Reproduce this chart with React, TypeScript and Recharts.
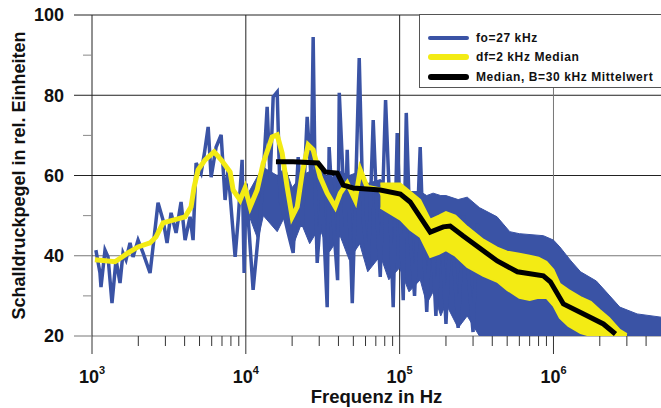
import { ComposedChart, Line, Area, XAxis, YAxis, ReferenceLine } from "recharts";

// fo=27 kHz, einzelne Linie (Spitzen bis ca. 400 kHz)
const blueFreq = [
  1060, 1127, 1144, 1215, 1271, 1349, 1433, 1521, 1591, 1664, 1767, 1849, 1992, 2147, 2384, 2494,
  2687, 2896, 3076, 3266, 3520, 3793, 4028, 4340, 4540, 4750, 5120, 5400, 5690, 5950, 6410, 6910,
  7330, 7670, 8100, 8520, 8910, 9460, 9750, 10050, 10200, 11150, 12020, 12770, 13760, 14390, 15060,
  15990, 16720, 18030, 18850, 20310, 21900, 23240, 25050, 26600, 27400, 28240, 29100, 31360, 33800,
  34800, 37000, 39500, 40500, 44300, 45600, 49200, 51400, 54600, 58000, 62500, 67300, 71500, 74800,
  81000, 86900, 90800, 96400, 100900, 105500, 110400, 117000, 125000, 136000, 142000, 150000,
  160000, 172000, 185000, 200000, 215000, 240000, 260000, 300000, 320000,
];
const blueLevel = [
  41.4, 35.7, 32.2, 41.4, 39.7, 28.2, 39, 33.2, 40.7, 39, 43.2, 39.7, 43.9, 40.7, 35.7, 42.2,
  53.2, 48.9, 43.2, 50.7, 45.7, 53.4, 43.9, 49.7, 43.9, 63.1, 60.6, 66, 72.1, 59.6, 67.1, 70.1,
  53.9, 61.4, 50, 39.7, 48.9, 63.9, 35.7, 58, 53.2, 31.5, 44.7, 55.6, 77.1, 58.9, 79.6,
  80.8, 53.9, 48.9, 45.7, 40.7, 64.6, 47.2, 74.6, 58.9, 94.5, 57.1, 38.2, 55.6, 27.2,
  67.1, 48.9, 33.9, 80.6, 47.2, 66.4, 28.2, 52.2, 89.3, 48.9, 37.2, 73.8, 48.9, 34.7,
  78.8, 48.9, 27.2, 70.6, 48.9, 28.9, 75.6, 45, 30, 67.1, 45, 26,
  50, 25, 50, 23, 50, 22, 50, 21, 48,
];

// fo=27 kHz, dichtes Band (Hüllkurven)
const blueBandFreq = [
  10500, 12000, 13000, 16000, 18000, 20000, 23000, 26000, 30000, 35000, 41000, 47000, 55000, 62000,
  75000, 85000, 100000, 115000, 136000, 150000, 165000, 185000, 200000, 240000, 275000, 330000,
  430000, 520000, 600000, 860000, 1000000, 1100000, 1300000, 1500000, 1900000, 2200000, 2700000,
  3500000, 5000000,
];
const blueBandLow = [
  50, 44, 50, 46, 50, 42, 48, 43, 47, 41, 45, 39, 43, 36, 40, 34, 37, 31, 34, 28, 31, 25, 28, 22,
  25, 20, 20, 20, 20, 20, 20, 20, 20, 20, 20, 20, 20, 20, 20,
];
const blueBandHigh = [
  56, 60, 62, 60, 62, 57, 60, 61, 62, 59, 61, 60, 61, 58, 59, 57, 58, 56, 56, 55, 55.6, 55, 55, 54,
  54.6, 52, 49.7, 46, 45.5, 45, 43.9, 42.2, 38.7, 36, 33.7, 31, 27.2, 25.5, 24.7,
];

// df=2 kHz Median
const yellowFreq = [
  1045, 1411, 1715, 1992, 2384, 2608, 2896, 3366, 4028, 4406, 4610, 4894, 5435, 6220, 6910, 7905,
  8265, 9180, 9890, 10670, 11850, 12970, 14830, 15990, 17220, 18570, 20000, 21580, 23240, 25430,
  27400, 30430, 33800, 38100, 41100, 45600, 51400, 55450, 61500, 74800, 86900, 100900,
];
const yellowLevel = [
  39, 38.5, 40.7, 42.2, 43.2, 44.7, 48.2, 48.9, 49.7, 52.2, 57.1, 61.4, 63.9, 65.9, 63.9, 60.9,
  56.4, 53.9, 56.9, 52.2, 56.4, 63.1, 69.6, 70.1, 65.6, 57.1, 49.7, 52.2, 60.6, 67.6,
  66.4, 59.6, 55.6, 52.2, 55.6, 58.1, 53.9, 61.4, 57.1, 56.4, 52.2, 57.1,
];
const yellowBandFreq = [
  75000, 101000, 117000, 136000, 158000, 180000, 200000, 230000, 275000, 350000, 431000, 500000,
  600000, 700000, 800000, 900000, 1000000, 1100000, 1250000, 1500000, 1750000, 2000000, 2300000,
  2700000, 3000000,
];
const yellowBandLow = [
  52, 49, 46.5, 44.7, 39.7, 40.5, 41.4, 40, 37.2, 35, 33.5, 31.5, 29.5, 29, 29.5, 29.5, 27.5, 24.5,
  22.5, 20.7, 20, 20, 20, 20, 20,
];
const yellowBandHigh = [
  58, 58, 56, 53.9, 49, 50, 50.9, 50, 47.2, 44, 42, 41, 40.5, 40, 39.5, 38.5, 36.5, 33, 31.5, 29.7,
  28.5, 26.5, 24.5, 21.5, 20.5,
];

// Median, B=30 kHz Mittelwert
const blackFreq = [
  15700, 20300, 29500, 32800, 39300, 43000, 49900, 74800, 101000, 117000, 158000, 192000, 213000,
  259000, 431000, 582000, 859000, 955000, 1160000, 1570000, 2110000, 2530000,
];
const blackLevel = [
  63.4, 63.4, 63.1, 60.9, 60.6, 57.6, 56.9, 56.4, 55.4, 53.4, 45.9, 47.2, 47.4, 44.9, 38.7, 36, 35,
  33.5, 28, 25.5, 23, 20.5,
];

const xTicks = [
  1e3, 2e3, 3e3, 4e3, 5e3, 6e3, 7e3, 8e3, 9e3, 1e4, 2e4, 3e4, 4e4, 5e4, 6e4, 7e4, 8e4, 9e4, 1e5,
  2e5, 3e5, 4e5, 5e5, 6e5, 7e5, 8e5, 9e5, 1e6, 2e6, 3e6, 4e6,
];
const xMajor = [1e3, 1e4, 1e5, 1e6];
const yTicks = [20, 30, 40, 50, 60, 70, 80, 90, 100];
const yMajor = [20, 40, 60, 80, 100];

const seriesNames = ["fo=27 kHz", "df=2 kHz Median", "Median, B=30 kHz Mittelwert"];

const BLUE = "#3a53a5";
const YELLOW = "#f3eb14";
const BLACK = "#000000";
const FONT = "'Liberation Sans', Arial, sans-serif";

const blueData = blueFreq.map((f, i) => ({ f, v: blueLevel[i] }));
const blueBand = blueBandFreq.map((f, i) => ({ f, r: [blueBandLow[i], blueBandHigh[i]] }));
const yellowData = yellowFreq.map((f, i) => ({ f, v: yellowLevel[i] }));
const yellowBand = yellowBandFreq.map((f, i) => ({ f, r: [yellowBandLow[i], yellowBandHigh[i]] }));
const blackData = blackFreq.map((f, i) => ({ f, v: blackLevel[i] }));

const XTick = (props: any) => {
  const { x, y, payload } = props;
  const major = xMajor.includes(payload.value);
  const exp = Math.round(Math.log10(payload.value));
  return (
    <g>
      <line x1={x} x2={x} y1={y} y2={y + (major ? 18 : 10)} stroke="#333" />
      {major && (
        <text x={x} y={y + 47} textAnchor="middle" fontSize={18} fontWeight="bold" fill="#111" fontFamily={FONT}>
          10
          <tspan fontSize={11} dy={-9}>
            {exp}
          </tspan>
        </text>
      )}
    </g>
  );
};

const YTick = (props: any) => {
  const { x, y, payload } = props;
  const major = yMajor.includes(payload.value);
  const color = major ? (payload.value >= 60 ? "#222" : "#777") : "#888";
  return (
    <g>
      <line x1={x - (major ? 18 : 9)} x2={x} y1={y} y2={y} stroke={color} />
      {major && (
        <text x={x - 28} y={y} dy="0.36em" textAnchor="end" fontSize={18} fontWeight="bold" fill="#111" fontFamily={FONT}>
          {payload.value}
        </text>
      )}
    </g>
  );
};

const YLabel = (props: any) => {
  const vb = props.viewBox;
  const cx = 25;
  const cy = vb.y + vb.height / 2;
  return (
    <text
      x={cx}
      y={cy}
      transform={`rotate(-90, ${cx}, ${cy})`}
      textAnchor="middle"
      fontSize={18}
      fontWeight="bold"
      fill="#111"
      fontFamily={FONT}
    >
      Schalldruckpegel in rel. Einheiten
    </text>
  );
};

const XLabel = (props: any) => {
  const vb = props.viewBox;
  return (
    <text
      x={vb.x + vb.width / 2}
      y={vb.y + 67}
      textAnchor="middle"
      fontSize={18.5}
      fontWeight="bold"
      fill="#111"
      fontFamily={FONT}
    >
      Frequenz in Hz
    </text>
  );
};

export default function App() {
  const swatches = [
    { color: BLUE, h: 4 },
    { color: YELLOW, h: 6 },
    { color: BLACK, h: 6 },
  ];
  return (
    <div style={{ position: "absolute", left: 0, top: 0, width: 661, height: 408, overflow: "hidden", background: "#fff" }}>
      <ComposedChart width={661} height={408} margin={{ top: 15, right: 0, bottom: 0, left: 0 }}>
        <XAxis
          dataKey="f"
          type="number"
          scale="log"
          domain={[1000, 5000000]}
          allowDataOverflow
          ticks={xTicks}
          interval={0}
          tick={<XTick />}
          tickSize={0}
          tickMargin={0}
          tickLine={false}
          axisLine={false}
          height={72}
          label={{ content: XLabel }}
        />
        <YAxis
          type="number"
          domain={[20, 100]}
          allowDataOverflow
          ticks={yTicks}
          interval={0}
          tick={<YTick />}
          tickSize={0}
          tickMargin={0}
          tickLine={false}
          axisLine={false}
          width={92}
          label={{ content: YLabel }}
        />
        {yMajor.map((v) => (
          <ReferenceLine key={"h" + v} y={v} stroke={v >= 60 ? "#222" : "#777"} zIndex={-50} />
        ))}
        {xMajor.map((v) => (
          <ReferenceLine key={"v" + v} x={v} stroke={v >= 1e6 ? "#777" : "#222"} zIndex={-50} />
        ))}
        <Area
          data={blueBand}
          dataKey="r"
          type="linear"
          stroke={BLUE}
          strokeWidth={1}
          fill={BLUE}
          fillOpacity={1}
          dot={false}
          activeDot={false}
          isAnimationActive={false}
          zIndex={101}
        />
        <Line
          data={blueData}
          dataKey="v"
          type="linear"
          stroke={BLUE}
          strokeWidth={3.5}
          dot={false}
          activeDot={false}
          isAnimationActive={false}
          zIndex={102}
        />
        <Line
          data={yellowData}
          dataKey="v"
          type="linear"
          stroke={YELLOW}
          strokeWidth={5}
          dot={false}
          activeDot={false}
          isAnimationActive={false}
          zIndex={103}
        />
        <Area
          data={yellowBand}
          dataKey="r"
          type="linear"
          stroke={YELLOW}
          strokeWidth={2}
          fill={YELLOW}
          fillOpacity={1}
          dot={false}
          activeDot={false}
          isAnimationActive={false}
          zIndex={104}
        />
        <Line
          data={blackData}
          dataKey="v"
          type="linear"
          stroke={BLACK}
          strokeWidth={5}
          dot={false}
          activeDot={false}
          isAnimationActive={false}
          zIndex={105}
        />
      </ComposedChart>
      <div
        style={{
          position: "absolute",
          left: 419,
          top: 14,
          width: 260,
          height: 74,
          background: "#fff",
          border: "1px solid #555",
          boxSizing: "border-box",
          fontFamily: FONT,
          fontSize: 12,
          fontWeight: "bold",
          letterSpacing: 0.6,
          color: "#111",
          paddingTop: 13,
        }}
      >
        {seriesNames.map((name, i) => (
          <div key={name} style={{ display: "flex", alignItems: "center", height: 19.5 }}>
            <div
              style={{
                marginLeft: 8,
                width: 41,
                height: swatches[i].h,
                borderRadius: 3,
                background: swatches[i].color,
              }}
            />
            <span style={{ marginLeft: 7 }}>{name}</span>
          </div>
        ))}
      </div>
    </div>
  );
}
